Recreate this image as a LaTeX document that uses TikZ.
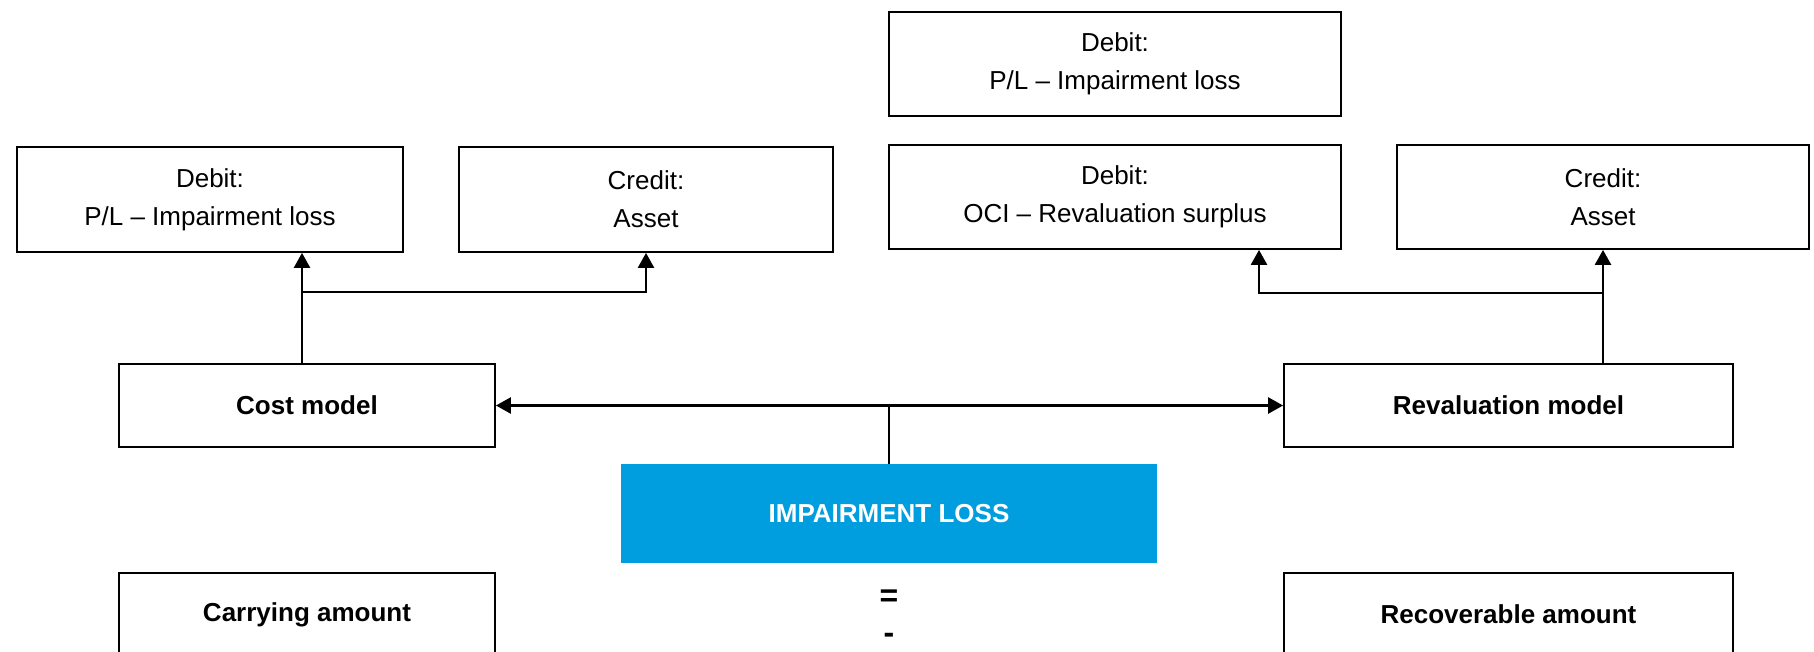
\documentclass[tikz,border=0pt]{standalone}
\usepackage{fontspec}
\setmainfont{Liberation Sans}
\usetikzlibrary{arrows.meta,positioning}
\definecolor{lossblue}{RGB}{0,158,223}

\begin{document}
\begin{tikzpicture}[x=1pt,y=-1pt,>={Triangle[length=15pt,width=16pt]}]
  \clip (0,0) rectangle (1814,651);
  \useasboundingbox (0,0) rectangle (1814,651);
  \begin{scope}[every node/.style={draw,line width=1.8pt,align=center,inner sep=0pt,
      font=\fontsize{26}{38}\selectfont}]
    % journal entries
    \node (DA) [minimum width=386pt,minimum height=105pt] at (210,199.5) {Debit:\\P/L – Impairment loss};
    \node (CA) [minimum width=374pt,minimum height=105pt] at (646,199.5) {Credit:\\Asset};
    \node (DT) [minimum width=452pt,minimum height=104pt] at (1115,64) {Debit:\\P/L – Impairment loss};
    \node (DO) [minimum width=452pt,minimum height=104pt] at (1115,197) {Debit:\\OCI – Revaluation surplus};
    \node (CB) [minimum width=412pt,minimum height=104pt] at (1603,197) {Credit:\\Asset};
    % models and amounts
    \node (C) [minimum width=376pt,minimum height=83pt,font=\fontsize{26}{38}\selectfont\bfseries] at (307,405.5) {Cost model};
    \node (R) [minimum width=449pt,minimum height=83pt,font=\fontsize{26}{38}\selectfont\bfseries] at (1508.5,405.5) {Revaluation model};
    \node (K) [minimum width=376pt,minimum height=83pt,font=\fontsize{26}{38}\selectfont\bfseries] at (307,614.5) {Carrying amount};
    \node (V) [minimum width=449pt,minimum height=83pt,font=\fontsize{26}{38}\selectfont\bfseries] at (1508.5,614.5) {Recoverable amount};
  \end{scope}
  \node (L) [fill=lossblue,text=white,minimum width=536pt,minimum height=99pt,inner sep=0pt,
    font=\fontsize{26}{38}\selectfont\bfseries] at (889,513.5) {IMPAIRMENT LOSS};
  \node (eq) [anchor=base,font=\fontsize{32}{38}\selectfont\bfseries] at (889,606) {=};
  \node (mi) [anchor=base,font=\fontsize{32}{38}\selectfont\bfseries] at (889,643) {-};
  \begin{scope}[line width=2.5pt]
    \coordinate (cl) at (302,292);
    \coordinate (rl) at (CB.south |- 0,293);
    \coordinate (ro) at (1259,293);
    \coordinate (m) at (L.north |- C.east);
    \draw[->] (C.north -| cl) -- (DA.south -| cl);
    \draw[->] (cl) -| (CA.south);
    \draw[->] (R.north -| CB.south) -- (CB.south);
    \draw[->] (rl) -- (ro) -- (ro |- DO.south);
    \draw (L.north) -- (m);
    \draw[->] (m) -- (C.east);
    \draw[->] (m) -- (R.west);
  \end{scope}
\end{tikzpicture}
\end{document}
